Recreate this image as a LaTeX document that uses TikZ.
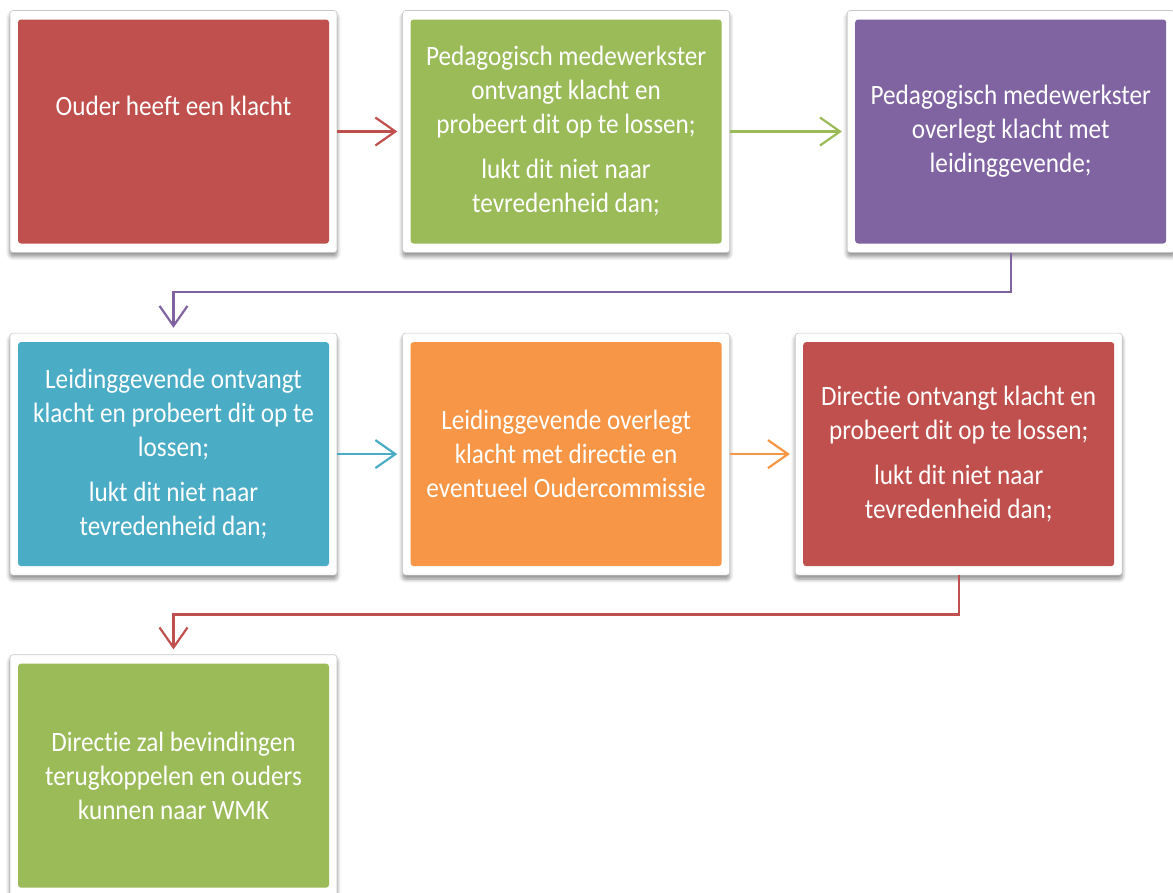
\documentclass[tikz,border=0pt]{standalone}
\usepackage{fontspec}
\setmainfont[FakeStretch=0.9,RawFeature=-liga]{Carlito}
\usetikzlibrary{positioning, shadows.blur, arrows.meta}

\definecolor{redbox}{HTML}{C0504D}
\definecolor{greenbox}{HTML}{9BBB59}
\definecolor{purplebox}{HTML}{8064A2}
\definecolor{bluebox}{HTML}{4BACC6}
\definecolor{orangebox}{HTML}{F79646}

\begin{document}
\begin{tikzpicture}[x=1pt,y=-1pt,
    box/.style={
            rectangle,draw=black!22,line width=0.6pt,fill=white,rounded corners=3pt,
            minimum width=327pt,minimum height=242pt,inner sep=0pt,
            text=white,align=center,font=\fontsize{28}{34}\selectfont,
            blur shadow={shadow xshift=0pt,shadow yshift=-4pt,shadow blur radius=4pt,shadow blur steps=6,shadow opacity=45},
            path picture={\fill[#1] ([shift={(8pt,-9pt)}]path picture bounding box.north west) rectangle ([shift={(-8pt,9pt)}]path picture bounding box.south east);}},
    link/.style={-{Straight Barb[length=20pt,width=28pt]},line width=2.2pt,shorten >=5pt,color=#1}]

\useasboundingbox (0,0) rectangle (1173,892);

%row 1====================================================================
\node[box=redbox] (1) at (173.5,131.5) {Ouder heeft een klacht\\[18pt]~};
\node[box=greenbox,right=65pt of 1] (2) {Pedagogisch medewerkster\\ontvangt klacht en\\probeert dit op te lossen;\\[11pt]lukt dit niet naar\\tevredenheid dan;};
\node[box=purplebox,right=117pt of 2] (3) {Pedagogisch medewerkster\\overlegt klacht met\\leidinggevende;};

\draw[link=redbox] (1)--(2);
\draw[link=greenbox] (2)--(3);
%=======================================================================

%row 2====================================================================
\node[box=bluebox,below=80pt of 1] (4) {Leidinggevende ontvangt\\klacht en probeert dit op te\\lossen;\\[11pt]lukt dit niet naar\\tevredenheid dan;};
\node[box=orangebox,right=65pt of 4] (5) {Leidinggevende overlegt\\klacht met directie en\\eventueel Oudercommissie};
\node[box=redbox,right=65pt of 5] (6) {Directie ontvangt klacht en\\probeert dit op te lossen;\\[11pt]lukt dit niet naar\\tevredenheid dan;};

\draw[link=purplebox] (3.south) -- ++(0,39) -| (4.north);
\draw[link=bluebox] (4)--(5);
\draw[link=orangebox] (5)--(6);
%=======================================================================

%row 3====================================================================
\node[box=greenbox,below=79pt of 4] (7) {Directie zal bevindingen\\terugkoppelen en ouders\\kunnen naar WMK};

\draw[link=redbox] (6.south) -- ++(0,39) -| (7.north);
%=======================================================================

\end{tikzpicture}
\end{document}
